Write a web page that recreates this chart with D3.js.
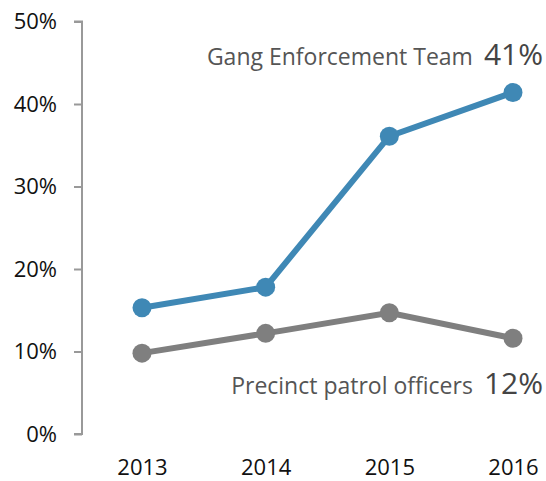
<!DOCTYPE html>
<html>
<head>
<meta charset="utf-8">
<script src="https://d3js.org/d3.v7.min.js"></script>
<style>
  body { margin: 0; background: #fff; }
  text { font-family: "Open Sans", sans-serif; }
</style>
</head>
<body>
<script>
var years = ["2013", "2014", "2015", "2016"];
var gangTeam = [15.3, 17.8, 36.1, 41.4];
var patrolOfficers = [9.8, 12.2, 14.7, 11.6];
var yTicks = [0, 10, 20, 30, 40, 50];

var svgWidth = 546;
var svgHeight = 481;

var svg = d3.select("body")
  .append("svg")
  .attr("width", svgWidth)
  .attr("height", svgHeight);

var xScale = d3.scalePoint()
  .domain(years)
  .range([142, 513]);

var yScale = d3.scaleLinear()
  .domain([0, 50])
  .range([434, 21.5]);

// y axis
var leftAxis = d3.axisLeft(yScale)
  .tickValues(yTicks)
  .tickSize(8)
  .tickPadding(17)
  .tickFormat(d => d + "%");

var yAxisG = svg.append("g")
  .attr("transform", "translate(82, 0)")
  .call(leftAxis);

yAxisG.select(".domain")
  .attr("d", `M-8,${yScale(50)}H0V${yScale(0)}H-8`)
  .attr("stroke", "#999")
  .attr("stroke-width", 2);
yAxisG.selectAll(".tick line")
  .attr("stroke", "#999")
  .attr("stroke-width", 2);
yAxisG.selectAll(".tick text")
  .attr("fill", "#111")
  .style("font-size", "22px");

// x axis (labels only)
var bottomAxis = d3.axisBottom(xScale).tickSize(0).tickPadding(0);
var xAxisG = svg.append("g")
  .attr("transform", "translate(0, 459)")
  .call(bottomAxis);
xAxisG.select(".domain").remove();
xAxisG.selectAll(".tick text")
  .attr("fill", "#111")
  .style("font-size", "22px");

var line = d3.line()
  .x((d, i) => xScale(years[i]))
  .y(d => yScale(d));

function drawSeries(values, color) {
  svg.append("path")
    .datum(values)
    .attr("fill", "none")
    .attr("stroke", color)
    .attr("stroke-width", 6)
    .attr("d", line);

  svg.selectAll(null)
    .data(values)
    .enter()
    .append("circle")
    .attr("cx", (d, i) => xScale(years[i]))
    .attr("cy", d => yScale(d))
    .attr("r", 9.5)
    .attr("fill", color);
}

drawSeries(patrolOfficers, "#7f7f7f");
drawSeries(gangTeam, "#3f88b5");

// series labels
function seriesLabel(y, name, value) {
  var t = svg.append("text")
    .attr("x", 543)
    .attr("y", y)
    .attr("text-anchor", "end");
  t.append("tspan")
    .attr("fill", "#555")
    .style("font-size", "23px")
    .text(name);
  t.append("tspan")
    .attr("dx", 11)
    .attr("fill", "#444")
    .style("font-size", "30px")
    .text(Math.round(value) + "%");
}

seriesLabel(65, "Gang Enforcement Team", gangTeam[3]);
seriesLabel(394, "Precinct patrol officers", patrolOfficers[3]);
</script>
</body>
</html>
